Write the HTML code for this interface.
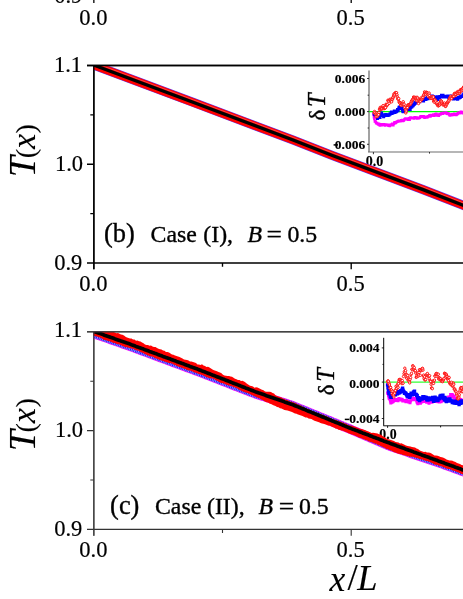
<!DOCTYPE html>
<html><head><meta charset="utf-8"><title>T(x)</title>
<style>
html,body{margin:0;padding:0;background:#fff;}
body{width:463px;height:599px;overflow:hidden;position:relative;}
svg{position:absolute;left:0;top:0;display:block;will-change:transform;}
text{font-family:"Liberation Serif",serif;fill:#000;stroke:#000;stroke-width:0.35px;}
.b{stroke-width:0.15px;}
.t{font-size:22.5px;stroke-width:0.2px;}
.big text{stroke-width:0.1px;}
.big{stroke-width:0.1px;}
.i{font-style:italic;}
.b{font-weight:bold;font-size:13.5px;}
</style></head><body>
<svg width="463" height="599" viewBox="0 0 463 599">
<rect width="463" height="599" fill="#fff"/>
<defs>
<clipPath id="cb"><rect x="93.5" y="65.5" width="380" height="197.5"/></clipPath>
<clipPath id="cc"><rect x="93.5" y="331.8" width="380" height="197.6"/></clipPath>
<clipPath id="ib"><rect x="369" y="66" width="100" height="86"/></clipPath>
<clipPath id="ic"><rect x="384" y="333" width="100" height="92.5"/></clipPath>
</defs>

<g stroke="#000" stroke-width="1.3" fill="none"><path d="M93.85 -4V2.9M351.2 -4V2.9"/></g>
<text class="t" x="82.3" y="3.4" text-anchor="end">0.9</text>
<text class="t" x="93.4" y="24.7" text-anchor="middle">0.0</text>
<text class="t" x="350.6" y="24.7" text-anchor="middle">0.5</text>
<g>
<path d="M369 70.4V152" stroke="#a2a2a2" stroke-width="2" fill="none"/>
<path d="M368 152H470" stroke="#6e6e6e" stroke-width="1.1" fill="none"/><path d="M373.4 152V154.2M429.5 152V153.6" stroke="#333" stroke-width="1" fill="none"/>
<path d="M367 78.5H369M367 111.6H369M367 144.3H369M367.6 95.2H369M367.6 128H369" stroke="#222" stroke-width="0.9" fill="none"/>
<text class="b" x="365.2" y="83" text-anchor="end">0.006</text>
<text class="b" x="365.2" y="116" text-anchor="end">0.000</text>
<text class="b" x="365.2" y="148.6" text-anchor="end">0.006</text><path d="M333.6 144.9H338" stroke="#000" stroke-width="1.5"/>
<text class="b" x="365.8" y="165.8" style="font-size:14px">0.0</text>
<g clip-path="url(#ib)">
<path d="M367.5 111.6H470" stroke="#00ff00" stroke-width="1.1" fill="none"/>
<path d="M373.6 114.6h0.01M374.0 117.2h0.01M374.4 119.0h0.01M374.9 121.5h0.01M375.3 121.4h0.01M375.8 122.0h0.01M376.2 123.2h0.01M376.6 123.2h0.01M377.1 123.0h0.01M377.6 123.7h0.01M378.0 124.3h0.01M378.5 124.5h0.01M379.0 123.9h0.01M379.5 125.0h0.01M380.0 125.4h0.01M380.6 124.8h0.01M381.1 124.7h0.01M381.6 124.4h0.01M382.1 125.2h0.01M382.6 124.5h0.01M383.1 125.0h0.01M383.6 124.6h0.01M384.1 124.3h0.01M384.7 124.9h0.01M385.2 125.4h0.01M385.7 125.0h0.01M386.2 124.5h0.01M386.7 125.0h0.01M387.3 124.8h0.01M387.8 124.9h0.01M388.3 125.5h0.01M388.8 125.6h0.01M389.3 124.8h0.01M389.8 125.9h0.01M390.3 125.2h0.01M390.8 125.3h0.01M391.3 124.6h0.01M391.8 124.6h0.01M392.3 123.8h0.01M392.8 125.2h0.01M393.3 125.3h0.01M393.8 123.8h0.01M394.3 122.9h0.01M394.8 122.2h0.01M395.2 123.2h0.01M395.7 122.6h0.01M396.2 122.3h0.01M396.7 121.9h0.01M397.2 121.8h0.01M397.7 121.2h0.01M398.2 121.4h0.01M398.7 120.7h0.01M399.3 121.0h0.01M399.8 121.2h0.01M400.3 121.3h0.01M400.8 120.9h0.01M401.3 120.3h0.01M401.8 120.5h0.01M402.3 120.1h0.01M402.9 120.9h0.01M403.4 120.7h0.01M403.9 120.1h0.01M404.4 119.5h0.01M404.9 119.1h0.01M405.5 118.6h0.01M406.0 118.7h0.01M406.5 118.9h0.01M407.0 119.0h0.01M407.5 119.1h0.01M408.0 119.8h0.01M408.5 118.6h0.01M409.1 118.4h0.01M409.6 119.7h0.01M410.1 117.8h0.01M410.6 117.6h0.01M411.1 117.8h0.01M411.6 117.8h0.01M412.1 118.1h0.01M412.6 117.9h0.01M413.2 118.1h0.01M413.7 118.1h0.01M414.2 118.5h0.01M414.7 117.4h0.01M415.2 117.4h0.01M415.7 117.9h0.01M416.3 117.7h0.01M416.8 117.6h0.01M417.3 118.4h0.01M417.8 117.9h0.01M418.3 118.2h0.01M418.7 118.2h0.01M419.2 117.9h0.01M419.7 117.7h0.01M420.2 117.2h0.01M420.6 116.3h0.01M421.1 116.4h0.01M421.6 116.6h0.01M422.1 116.3h0.01M422.6 116.4h0.01M423.1 116.9h0.01M423.6 116.3h0.01M424.1 116.8h0.01M424.5 117.7h0.01M425.0 116.8h0.01M425.5 116.8h0.01M426.0 116.7h0.01M426.5 117.5h0.01M427.0 117.3h0.01M427.5 117.3h0.01M428.0 116.4h0.01M428.5 116.3h0.01M429.0 116.2h0.01M429.5 115.2h0.01M429.9 116.3h0.01M430.4 116.4h0.01M430.9 115.0h0.01M431.4 115.6h0.01M431.9 115.3h0.01M432.4 115.4h0.01M432.9 115.4h0.01M433.4 114.5h0.01M433.9 114.7h0.01M434.4 115.6h0.01M434.9 114.9h0.01M435.3 114.4h0.01M435.8 114.0h0.01M436.3 113.9h0.01M436.8 114.6h0.01M437.3 115.5h0.01M437.8 115.2h0.01M438.3 114.9h0.01M438.8 115.7h0.01M439.3 114.6h0.01M439.8 114.0h0.01M440.2 114.3h0.01M440.7 114.3h0.01M441.2 113.5h0.01M441.7 113.0h0.01M442.2 113.5h0.01M442.7 113.6h0.01M443.2 112.8h0.01M443.6 112.9h0.01M444.1 112.7h0.01M444.6 113.1h0.01M445.1 112.9h0.01M445.5 112.8h0.01M446.0 112.5h0.01M446.5 113.0h0.01M447.0 113.8h0.01M447.5 113.3h0.01M447.9 114.0h0.01M448.4 113.6h0.01M448.9 114.0h0.01M449.4 114.7h0.01M449.8 115.5h0.01M450.3 115.1h0.01M450.8 115.2h0.01M451.3 115.3h0.01M451.8 114.4h0.01M452.3 114.8h0.01M452.8 114.6h0.01M453.3 115.0h0.01M453.7 114.4h0.01M454.2 113.7h0.01M454.7 114.4h0.01M455.2 114.7h0.01M455.7 114.4h0.01M456.2 115.0h0.01M456.7 114.4h0.01M457.2 113.8h0.01M457.6 114.0h0.01M458.1 112.9h0.01M458.6 112.7h0.01M459.1 112.8h0.01M459.5 113.1h0.01M460.0 112.5h0.01M460.5 112.4h0.01M461.0 111.9h0.01M461.5 112.2h0.01M462.0 113.0h0.01M462.5 112.1h0.01M463.0 113.2h0.01M463.5 112.2h0.01M464.0 112.1h0.01" stroke="#ff00ff" stroke-width="2.6" fill="none" stroke-linecap="square"/>
<path d="M374.1 113.8h0.01M374.6 114.8h0.01M375.1 113.9h0.01M375.6 113.1h0.01M376.1 114.9h0.01M376.5 116.0h0.01M377.0 116.6h0.01M377.5 118.4h0.01M378.0 117.7h0.01M378.5 117.1h0.01M379.0 117.2h0.01M379.5 116.8h0.01M380.0 117.4h0.01M380.6 115.5h0.01M381.1 115.3h0.01M381.6 112.9h0.01M382.1 114.9h0.01M382.6 114.7h0.01M383.1 115.5h0.01M383.6 116.7h0.01M384.1 115.8h0.01M384.6 115.2h0.01M385.1 114.9h0.01M385.7 114.5h0.01M386.2 114.5h0.01M386.7 115.5h0.01M387.2 115.4h0.01M387.7 115.5h0.01M388.2 114.9h0.01M388.8 115.2h0.01M389.3 114.8h0.01M389.8 113.9h0.01M390.4 113.9h0.01M390.9 113.1h0.01M391.4 112.1h0.01M391.9 113.4h0.01M392.4 113.1h0.01M392.9 111.9h0.01M393.3 112.8h0.01M393.8 112.5h0.01M394.3 111.0h0.01M394.8 112.5h0.01M395.3 112.0h0.01M395.9 112.1h0.01M396.4 111.5h0.01M396.9 110.9h0.01M397.5 109.6h0.01M398.0 110.7h0.01M398.4 109.3h0.01M398.9 107.8h0.01M399.3 107.0h0.01M399.7 107.3h0.01M400.2 108.0h0.01M400.6 107.8h0.01M401.1 108.5h0.01M401.6 107.8h0.01M402.1 109.2h0.01M402.6 111.0h0.01M403.1 111.8h0.01M403.6 110.8h0.01M404.2 110.6h0.01M404.7 111.6h0.01M405.2 110.6h0.01M405.7 110.5h0.01M406.2 110.8h0.01M406.7 109.4h0.01M407.2 109.4h0.01M407.7 107.7h0.01M408.2 107.9h0.01M408.7 107.8h0.01M409.2 107.9h0.01M409.7 108.6h0.01M410.2 109.5h0.01M410.7 107.6h0.01M411.3 106.7h0.01M411.8 106.9h0.01M412.3 105.8h0.01M412.8 105.9h0.01M413.2 105.6h0.01M413.7 104.6h0.01M414.2 104.4h0.01M414.7 102.8h0.01M415.2 103.6h0.01M415.8 102.1h0.01M416.3 101.9h0.01M416.8 101.8h0.01M417.3 101.6h0.01M417.8 102.3h0.01M418.4 101.8h0.01M418.9 101.1h0.01M419.4 101.3h0.01M419.9 101.8h0.01M420.5 100.6h0.01M421.1 100.2h0.01M421.6 100.3h0.01M422.1 99.8h0.01M422.6 98.5h0.01M423.1 100.5h0.01M423.6 101.1h0.01M424.0 98.4h0.01M424.5 98.6h0.01M425.0 99.0h0.01M425.5 99.4h0.01M426.0 99.4h0.01M426.5 98.6h0.01M427.0 97.6h0.01M427.5 98.0h0.01M428.0 98.7h0.01M428.5 97.4h0.01M429.0 96.8h0.01M429.4 97.2h0.01M429.9 96.0h0.01M430.4 96.6h0.01M430.9 96.6h0.01M431.4 97.1h0.01M431.9 96.5h0.01M432.4 96.0h0.01M432.9 96.4h0.01M433.4 96.9h0.01M433.9 96.8h0.01M434.4 97.3h0.01M434.9 98.1h0.01M435.3 98.9h0.01M435.8 99.7h0.01M436.3 98.3h0.01M436.8 98.2h0.01M437.3 96.8h0.01M437.8 99.4h0.01M438.3 98.1h0.01M438.9 97.9h0.01M439.4 98.0h0.01M439.9 96.4h0.01M440.5 96.9h0.01M441.0 96.5h0.01M441.5 95.2h0.01M442.0 96.1h0.01M442.5 97.0h0.01M443.0 95.3h0.01M443.4 96.4h0.01M443.9 96.4h0.01M444.4 96.5h0.01M444.9 96.5h0.01M445.4 97.1h0.01M445.9 96.3h0.01M446.4 96.8h0.01M446.8 96.2h0.01M447.3 96.7h0.01M447.8 95.9h0.01M448.3 96.1h0.01M448.7 97.5h0.01M449.2 97.2h0.01M449.7 96.7h0.01M450.2 95.9h0.01M450.7 96.0h0.01M451.1 96.8h0.01M451.6 97.7h0.01M452.1 97.9h0.01M452.6 98.1h0.01M453.0 97.9h0.01M453.5 98.9h0.01M454.0 98.1h0.01M454.5 97.8h0.01M454.9 98.8h0.01M455.4 98.7h0.01M455.9 98.5h0.01M456.4 98.3h0.01M456.8 98.5h0.01M457.3 99.3h0.01M457.8 99.0h0.01M458.4 97.6h0.01M458.9 98.0h0.01M459.4 97.8h0.01M460.0 96.7h0.01M460.5 97.3h0.01M461.0 96.5h0.01M461.5 95.9h0.01M462.0 96.2h0.01M462.5 96.4h0.01M463.0 94.8h0.01M463.5 94.7h0.01M464.0 93.5h0.01" stroke="#0000ff" stroke-width="3.0" fill="none" stroke-linecap="square"/>
<g fill="#fff" stroke="#ff0000" stroke-width="0.9"><circle cx="374.1" cy="112.7" r="1.25"/><circle cx="374.5" cy="111.5" r="1.25"/><circle cx="374.9" cy="113.3" r="1.25"/><circle cx="375.2" cy="112.6" r="1.25"/><circle cx="375.6" cy="114.3" r="1.25"/><circle cx="376.0" cy="116.8" r="1.25"/><circle cx="376.5" cy="113.3" r="1.25"/><circle cx="376.9" cy="114.6" r="1.25"/><circle cx="377.3" cy="116.4" r="1.25"/><circle cx="377.7" cy="115.1" r="1.25"/><circle cx="378.2" cy="113.3" r="1.25"/><circle cx="378.6" cy="114.7" r="1.25"/><circle cx="379.0" cy="112.4" r="1.25"/><circle cx="379.5" cy="109.1" r="1.25"/><circle cx="379.9" cy="109.7" r="1.25"/><circle cx="380.3" cy="107.4" r="1.25"/><circle cx="380.7" cy="109.3" r="1.25"/><circle cx="381.0" cy="108.0" r="1.25"/><circle cx="381.4" cy="108.1" r="1.25"/><circle cx="381.8" cy="109.1" r="1.25"/><circle cx="382.2" cy="108.4" r="1.25"/><circle cx="382.7" cy="106.6" r="1.25"/><circle cx="383.1" cy="105.7" r="1.25"/><circle cx="383.5" cy="108.2" r="1.25"/><circle cx="384.0" cy="108.7" r="1.25"/><circle cx="384.4" cy="107.3" r="1.25"/><circle cx="384.8" cy="108.1" r="1.25"/><circle cx="385.2" cy="107.8" r="1.25"/><circle cx="385.6" cy="107.6" r="1.25"/><circle cx="386.0" cy="104.3" r="1.25"/><circle cx="386.4" cy="104.9" r="1.25"/><circle cx="386.8" cy="105.6" r="1.25"/><circle cx="387.2" cy="105.0" r="1.25"/><circle cx="387.5" cy="104.4" r="1.25"/><circle cx="387.9" cy="100.3" r="1.25"/><circle cx="388.3" cy="100.9" r="1.25"/><circle cx="388.7" cy="101.3" r="1.25"/><circle cx="389.1" cy="103.3" r="1.25"/><circle cx="389.5" cy="100.2" r="1.25"/><circle cx="389.9" cy="99.5" r="1.25"/><circle cx="390.3" cy="99.3" r="1.25"/><circle cx="390.7" cy="100.7" r="1.25"/><circle cx="391.2" cy="100.1" r="1.25"/><circle cx="391.6" cy="101.8" r="1.25"/><circle cx="392.0" cy="99.5" r="1.25"/><circle cx="392.4" cy="99.3" r="1.25"/><circle cx="392.7" cy="97.9" r="1.25"/><circle cx="393.1" cy="97.6" r="1.25"/><circle cx="393.5" cy="96.1" r="1.25"/><circle cx="393.9" cy="94.1" r="1.25"/><circle cx="394.4" cy="95.5" r="1.25"/><circle cx="394.8" cy="94.7" r="1.25"/><circle cx="395.2" cy="93.0" r="1.25"/><circle cx="395.7" cy="92.6" r="1.25"/><circle cx="396.1" cy="92.7" r="1.25"/><circle cx="396.5" cy="92.8" r="1.25"/><circle cx="397.0" cy="94.8" r="1.25"/><circle cx="397.4" cy="97.2" r="1.25"/><circle cx="397.8" cy="98.8" r="1.25"/><circle cx="398.3" cy="99.3" r="1.25"/><circle cx="398.7" cy="98.6" r="1.25"/><circle cx="399.1" cy="101.9" r="1.25"/><circle cx="399.6" cy="102.5" r="1.25"/><circle cx="400.0" cy="102.9" r="1.25"/><circle cx="400.4" cy="103.6" r="1.25"/><circle cx="400.9" cy="105.0" r="1.25"/><circle cx="401.3" cy="105.5" r="1.25"/><circle cx="401.7" cy="104.2" r="1.25"/><circle cx="402.1" cy="103.7" r="1.25"/><circle cx="402.4" cy="103.3" r="1.25"/><circle cx="402.8" cy="102.9" r="1.25"/><circle cx="403.2" cy="101.8" r="1.25"/><circle cx="403.6" cy="104.5" r="1.25"/><circle cx="404.1" cy="104.2" r="1.25"/><circle cx="404.5" cy="106.8" r="1.25"/><circle cx="404.9" cy="107.3" r="1.25"/><circle cx="405.4" cy="109.9" r="1.25"/><circle cx="405.8" cy="112.9" r="1.25"/><circle cx="406.2" cy="111.0" r="1.25"/><circle cx="406.7" cy="108.5" r="1.25"/><circle cx="407.1" cy="107.7" r="1.25"/><circle cx="407.5" cy="107.4" r="1.25"/><circle cx="407.9" cy="105.1" r="1.25"/><circle cx="408.2" cy="105.1" r="1.25"/><circle cx="408.6" cy="105.5" r="1.25"/><circle cx="409.0" cy="104.7" r="1.25"/><circle cx="409.4" cy="104.5" r="1.25"/><circle cx="409.8" cy="104.7" r="1.25"/><circle cx="410.2" cy="104.3" r="1.25"/><circle cx="410.6" cy="103.9" r="1.25"/><circle cx="411.0" cy="103.0" r="1.25"/><circle cx="411.4" cy="101.5" r="1.25"/><circle cx="411.9" cy="100.9" r="1.25"/><circle cx="412.3" cy="100.1" r="1.25"/><circle cx="412.7" cy="99.5" r="1.25"/><circle cx="413.2" cy="99.0" r="1.25"/><circle cx="413.6" cy="97.0" r="1.25"/><circle cx="414.0" cy="97.7" r="1.25"/><circle cx="414.5" cy="98.2" r="1.25"/><circle cx="414.9" cy="97.3" r="1.25"/><circle cx="415.3" cy="97.9" r="1.25"/><circle cx="415.8" cy="98.6" r="1.25"/><circle cx="416.2" cy="98.1" r="1.25"/><circle cx="416.6" cy="100.7" r="1.25"/><circle cx="417.0" cy="97.3" r="1.25"/><circle cx="417.3" cy="98.8" r="1.25"/><circle cx="417.7" cy="98.1" r="1.25"/><circle cx="418.1" cy="100.9" r="1.25"/><circle cx="418.5" cy="103.5" r="1.25"/><circle cx="418.9" cy="99.4" r="1.25"/><circle cx="419.2" cy="100.6" r="1.25"/><circle cx="419.6" cy="101.5" r="1.25"/><circle cx="420.0" cy="101.0" r="1.25"/><circle cx="420.4" cy="101.2" r="1.25"/><circle cx="420.9" cy="98.1" r="1.25"/><circle cx="421.3" cy="99.7" r="1.25"/><circle cx="421.7" cy="99.5" r="1.25"/><circle cx="422.2" cy="98.7" r="1.25"/><circle cx="422.6" cy="97.5" r="1.25"/><circle cx="423.0" cy="97.5" r="1.25"/><circle cx="423.4" cy="95.7" r="1.25"/><circle cx="423.8" cy="95.1" r="1.25"/><circle cx="424.2" cy="94.2" r="1.25"/><circle cx="424.6" cy="91.9" r="1.25"/><circle cx="425.0" cy="93.1" r="1.25"/><circle cx="425.4" cy="93.5" r="1.25"/><circle cx="425.8" cy="94.0" r="1.25"/><circle cx="426.2" cy="92.4" r="1.25"/><circle cx="426.6" cy="92.4" r="1.25"/><circle cx="427.0" cy="92.8" r="1.25"/><circle cx="427.4" cy="93.2" r="1.25"/><circle cx="427.8" cy="94.7" r="1.25"/><circle cx="428.2" cy="96.4" r="1.25"/><circle cx="428.6" cy="94.4" r="1.25"/><circle cx="429.1" cy="93.1" r="1.25"/><circle cx="429.5" cy="95.7" r="1.25"/><circle cx="429.9" cy="97.7" r="1.25"/><circle cx="430.3" cy="98.1" r="1.25"/><circle cx="430.7" cy="98.3" r="1.25"/><circle cx="431.2" cy="97.1" r="1.25"/><circle cx="431.6" cy="96.8" r="1.25"/><circle cx="432.0" cy="98.5" r="1.25"/><circle cx="432.5" cy="97.5" r="1.25"/><circle cx="432.9" cy="96.5" r="1.25"/><circle cx="433.3" cy="97.1" r="1.25"/><circle cx="433.7" cy="101.1" r="1.25"/><circle cx="434.2" cy="102.1" r="1.25"/><circle cx="434.6" cy="100.0" r="1.25"/><circle cx="435.0" cy="99.8" r="1.25"/><circle cx="435.4" cy="101.1" r="1.25"/><circle cx="435.9" cy="101.1" r="1.25"/><circle cx="436.3" cy="103.5" r="1.25"/><circle cx="436.7" cy="103.4" r="1.25"/><circle cx="437.1" cy="102.8" r="1.25"/><circle cx="437.6" cy="105.4" r="1.25"/><circle cx="438.0" cy="104.9" r="1.25"/><circle cx="438.4" cy="105.9" r="1.25"/><circle cx="438.8" cy="105.5" r="1.25"/><circle cx="439.2" cy="104.8" r="1.25"/><circle cx="439.6" cy="105.0" r="1.25"/><circle cx="440.0" cy="103.8" r="1.25"/><circle cx="440.4" cy="102.1" r="1.25"/><circle cx="440.8" cy="100.8" r="1.25"/><circle cx="441.2" cy="101.1" r="1.25"/><circle cx="441.6" cy="101.5" r="1.25"/><circle cx="442.0" cy="102.9" r="1.25"/><circle cx="442.4" cy="103.7" r="1.25"/><circle cx="442.9" cy="104.7" r="1.25"/><circle cx="443.3" cy="104.8" r="1.25"/><circle cx="443.7" cy="104.2" r="1.25"/><circle cx="444.1" cy="104.3" r="1.25"/><circle cx="444.6" cy="103.1" r="1.25"/><circle cx="445.0" cy="104.9" r="1.25"/><circle cx="445.4" cy="106.4" r="1.25"/><circle cx="445.8" cy="106.1" r="1.25"/><circle cx="446.2" cy="104.8" r="1.25"/><circle cx="446.6" cy="103.7" r="1.25"/><circle cx="447.0" cy="103.9" r="1.25"/><circle cx="447.4" cy="102.6" r="1.25"/><circle cx="447.8" cy="102.3" r="1.25"/><circle cx="448.2" cy="101.5" r="1.25"/><circle cx="448.6" cy="100.3" r="1.25"/><circle cx="449.0" cy="100.8" r="1.25"/><circle cx="449.5" cy="98.8" r="1.25"/><circle cx="449.9" cy="98.0" r="1.25"/><circle cx="450.4" cy="96.9" r="1.25"/><circle cx="450.8" cy="96.3" r="1.25"/><circle cx="451.2" cy="98.1" r="1.25"/><circle cx="451.7" cy="98.6" r="1.25"/><circle cx="452.1" cy="96.7" r="1.25"/><circle cx="452.6" cy="96.3" r="1.25"/><circle cx="453.0" cy="96.5" r="1.25"/><circle cx="453.4" cy="96.1" r="1.25"/><circle cx="453.9" cy="96.3" r="1.25"/><circle cx="454.3" cy="93.8" r="1.25"/><circle cx="454.7" cy="93.4" r="1.25"/><circle cx="455.1" cy="94.2" r="1.25"/><circle cx="455.6" cy="95.4" r="1.25"/><circle cx="456.0" cy="94.4" r="1.25"/><circle cx="456.4" cy="92.9" r="1.25"/><circle cx="456.9" cy="92.8" r="1.25"/><circle cx="457.3" cy="92.3" r="1.25"/><circle cx="457.7" cy="91.6" r="1.25"/><circle cx="458.1" cy="93.5" r="1.25"/><circle cx="458.5" cy="91.8" r="1.25"/><circle cx="458.9" cy="91.5" r="1.25"/><circle cx="459.3" cy="93.3" r="1.25"/><circle cx="459.7" cy="92.7" r="1.25"/><circle cx="460.1" cy="91.4" r="1.25"/><circle cx="460.5" cy="89.7" r="1.25"/><circle cx="460.9" cy="89.9" r="1.25"/><circle cx="461.4" cy="90.9" r="1.25"/><circle cx="461.8" cy="89.9" r="1.25"/><circle cx="462.2" cy="89.9" r="1.25"/><circle cx="462.7" cy="88.5" r="1.25"/><circle cx="463.1" cy="88.1" r="1.25"/><circle cx="463.6" cy="87.0" r="1.25"/><circle cx="464.0" cy="86.9" r="1.25"/></g>
</g></g>
<g>
<path d="M383.7 337.8V425.8" stroke="#000" stroke-width="1.0" fill="none"/>
<path d="M383.4 425.8H470M387.6 425.8V427.8M440.6 425.8V427.4" stroke="#111" stroke-width="1" fill="none"/>
<path d="M381.8 347.9H384M381.8 382.1H384M381.8 418.5H384M382.5 364.4H384M382.5 399.5H384" stroke="#111" stroke-width="0.9" fill="none"/>
<text class="b" x="379.6" y="352.4" text-anchor="end">0.004</text>
<text class="b" x="379.6" y="387.6" text-anchor="end">0.000</text>
<text class="b" x="379.6" y="423.2" text-anchor="end">0.004</text><path d="M344.8 419.4H349.3" stroke="#000" stroke-width="1.5"/>
<text class="b" x="379.3" y="439.4" style="font-size:13.8px">0.0</text>
<g clip-path="url(#ic)">
<path d="M383 382.1H470" stroke="#33ff33" stroke-width="1.3" fill="none"/>
<path d="M387.6 392.9h0.01M388.1 393.4h0.01M388.5 395.7h0.01M389.0 398.0h0.01M389.4 398.5h0.01M389.9 399.3h0.01M390.4 401.0h0.01M390.8 403.0h0.01M391.3 402.4h0.01M391.8 401.8h0.01M392.2 400.2h0.01M392.7 402.0h0.01M393.2 401.3h0.01M393.7 400.9h0.01M394.1 399.9h0.01M394.6 400.2h0.01M395.1 399.5h0.01M395.6 400.0h0.01M396.1 400.5h0.01M396.5 400.3h0.01M397.0 400.4h0.01M397.5 399.6h0.01M398.0 400.8h0.01M398.4 399.8h0.01M398.9 398.5h0.01M399.4 399.1h0.01M399.9 399.1h0.01M400.4 398.9h0.01M400.9 399.3h0.01M401.4 400.0h0.01M401.8 399.3h0.01M402.3 399.8h0.01M402.8 401.1h0.01M403.3 401.1h0.01M403.8 400.6h0.01M404.3 400.8h0.01M404.9 400.8h0.01M405.4 401.0h0.01M405.9 401.7h0.01M406.4 401.5h0.01M406.9 400.0h0.01M407.5 401.1h0.01M408.0 401.1h0.01M408.5 401.9h0.01M409.0 401.3h0.01M409.5 401.4h0.01M410.0 402.8h0.01M410.4 401.0h0.01M410.9 400.1h0.01M411.4 399.4h0.01M411.9 398.4h0.01M412.4 398.2h0.01M412.9 399.7h0.01M413.5 399.5h0.01M414.0 398.5h0.01M414.5 398.3h0.01M415.1 399.7h0.01M415.6 399.2h0.01M416.2 399.8h0.01M416.7 400.9h0.01M417.2 402.4h0.01M417.8 403.7h0.01M418.3 403.3h0.01M418.8 402.5h0.01M419.4 402.1h0.01M419.9 403.1h0.01M420.4 403.2h0.01M420.9 401.9h0.01M421.4 401.9h0.01M421.9 401.7h0.01M422.4 401.4h0.01M423.0 400.9h0.01M423.5 400.0h0.01M424.0 400.2h0.01M424.5 399.6h0.01M425.0 401.4h0.01M425.5 401.6h0.01M426.0 400.5h0.01M426.5 401.9h0.01M427.0 402.2h0.01M427.5 400.3h0.01M428.0 402.2h0.01M428.5 402.3h0.01M429.0 403.2h0.01M429.5 401.3h0.01M430.0 401.8h0.01M430.5 401.9h0.01M431.0 401.8h0.01M431.5 401.7h0.01M432.0 402.2h0.01M432.5 400.7h0.01M433.0 400.2h0.01M433.5 399.9h0.01M434.0 400.3h0.01M434.5 400.5h0.01M435.0 401.2h0.01M435.5 401.4h0.01M436.0 401.3h0.01M436.5 400.7h0.01M437.0 400.7h0.01M437.5 401.6h0.01M438.0 401.8h0.01M438.5 401.4h0.01M439.0 401.0h0.01M439.5 402.1h0.01M440.0 401.0h0.01M440.5 401.3h0.01M441.0 401.7h0.01M441.5 400.7h0.01M442.0 401.0h0.01M442.5 399.7h0.01M443.0 400.5h0.01M443.5 400.2h0.01M444.0 398.7h0.01M444.5 399.6h0.01M445.0 398.7h0.01M445.5 399.8h0.01M446.0 398.8h0.01M446.5 398.5h0.01M447.1 398.5h0.01M447.6 397.9h0.01M448.1 397.9h0.01M448.6 397.1h0.01M449.2 397.4h0.01M449.7 396.9h0.01M450.2 396.8h0.01M450.6 394.6h0.01M451.1 396.3h0.01M451.6 396.1h0.01M452.1 394.6h0.01M452.5 395.3h0.01M453.0 395.7h0.01M453.5 396.9h0.01M454.0 396.2h0.01M454.5 398.2h0.01M455.0 398.1h0.01M455.5 400.2h0.01M456.0 399.6h0.01M456.5 399.9h0.01M457.0 399.4h0.01M457.5 398.8h0.01M458.0 400.2h0.01M458.5 400.8h0.01M459.0 401.5h0.01M459.5 401.5h0.01M460.0 400.6h0.01M460.5 399.5h0.01M461.0 400.0h0.01M461.5 400.2h0.01M462.0 400.3h0.01M462.5 401.5h0.01M463.0 401.9h0.01M463.5 401.7h0.01M464.0 402.1h0.01" stroke="#ff00ff" stroke-width="3.0" fill="none" stroke-linecap="square"/>
<path d="M387.6 384.9h0.01M388.0 387.7h0.01M388.4 390.8h0.01M388.8 393.2h0.01M389.2 393.7h0.01M389.7 393.3h0.01M390.3 396.6h0.01M390.8 397.1h0.01M391.3 397.3h0.01M391.9 394.3h0.01M392.4 394.0h0.01M392.9 393.8h0.01M393.5 391.9h0.01M394.0 391.7h0.01M394.5 393.1h0.01M395.0 394.0h0.01M395.5 394.9h0.01M396.0 392.8h0.01M396.4 391.4h0.01M396.9 392.8h0.01M397.4 393.7h0.01M397.9 393.4h0.01M398.4 391.7h0.01M398.9 392.7h0.01M399.5 392.8h0.01M400.0 392.4h0.01M400.5 390.9h0.01M401.0 390.8h0.01M401.6 391.0h0.01M402.1 389.4h0.01M402.6 388.2h0.01M403.1 390.2h0.01M403.5 391.5h0.01M404.0 391.9h0.01M404.5 393.2h0.01M404.9 392.6h0.01M405.4 393.2h0.01M405.9 393.5h0.01M406.4 394.4h0.01M406.9 395.9h0.01M407.3 394.7h0.01M407.8 396.6h0.01M408.3 396.9h0.01M408.8 396.4h0.01M409.2 396.0h0.01M409.7 397.2h0.01M410.2 395.7h0.01M410.7 394.8h0.01M411.1 393.2h0.01M411.6 393.8h0.01M412.1 394.7h0.01M412.6 394.0h0.01M413.1 393.4h0.01M413.5 392.3h0.01M414.0 391.9h0.01M414.5 391.3h0.01M415.1 394.1h0.01M415.6 394.4h0.01M416.2 394.4h0.01M416.7 395.3h0.01M417.2 395.7h0.01M417.6 397.8h0.01M418.1 399.2h0.01M418.6 397.6h0.01M419.1 399.6h0.01M419.5 400.6h0.01M420.0 399.9h0.01M420.5 398.3h0.01M421.0 398.2h0.01M421.4 398.2h0.01M421.9 399.1h0.01M422.4 398.6h0.01M422.9 396.6h0.01M423.3 398.0h0.01M423.8 396.6h0.01M424.3 398.4h0.01M424.8 397.2h0.01M425.3 397.3h0.01M425.8 397.2h0.01M426.3 397.6h0.01M426.8 399.6h0.01M427.2 400.1h0.01M427.7 400.1h0.01M428.2 399.8h0.01M428.7 397.9h0.01M429.2 398.3h0.01M429.7 398.4h0.01M430.2 398.1h0.01M430.7 399.6h0.01M431.2 398.9h0.01M431.7 398.8h0.01M432.1 398.5h0.01M432.6 397.4h0.01M433.1 399.6h0.01M433.6 401.3h0.01M434.1 400.9h0.01M434.6 399.7h0.01M435.1 397.1h0.01M435.6 398.8h0.01M436.1 400.3h0.01M436.6 399.8h0.01M437.1 400.1h0.01M437.5 400.5h0.01M438.0 400.2h0.01M438.5 398.3h0.01M439.0 398.9h0.01M439.5 398.6h0.01M440.0 396.1h0.01M440.5 396.4h0.01M441.0 395.5h0.01M441.5 396.6h0.01M442.0 397.8h0.01M442.5 396.6h0.01M442.9 395.3h0.01M443.4 398.1h0.01M443.9 398.4h0.01M444.4 399.7h0.01M444.9 397.4h0.01M445.4 399.0h0.01M445.9 400.8h0.01M446.4 401.6h0.01M446.9 399.8h0.01M447.4 399.7h0.01M447.9 399.3h0.01M448.3 400.4h0.01M448.8 401.1h0.01M449.3 400.5h0.01M449.8 398.9h0.01M450.3 400.5h0.01M450.8 400.1h0.01M451.3 401.0h0.01M451.8 401.0h0.01M452.3 402.5h0.01M452.8 402.6h0.01M453.3 401.1h0.01M453.7 401.4h0.01M454.2 403.0h0.01M454.7 401.4h0.01M455.2 401.7h0.01M455.7 402.7h0.01M456.2 403.2h0.01M456.7 402.7h0.01M457.2 400.7h0.01M457.7 400.0h0.01M458.1 401.3h0.01M458.6 402.0h0.01M459.1 404.5h0.01M459.6 402.1h0.01M460.1 403.2h0.01M460.6 403.3h0.01M461.1 400.9h0.01M461.6 400.9h0.01M462.1 401.9h0.01M462.5 401.7h0.01M463.0 402.0h0.01M463.5 402.7h0.01M464.0 401.8h0.01" stroke="#0000ff" stroke-width="3.4" fill="none" stroke-linecap="square"/>
<g fill="#fff" stroke="#ff0000" stroke-width="0.9"><circle cx="387.6" cy="381.6" r="1.2"/><circle cx="388.0" cy="380.8" r="1.2"/><circle cx="388.4" cy="381.4" r="1.2"/><circle cx="388.8" cy="383.8" r="1.2"/><circle cx="389.1" cy="383.2" r="1.2"/><circle cx="389.5" cy="385.0" r="1.2"/><circle cx="389.9" cy="388.2" r="1.2"/><circle cx="390.3" cy="387.0" r="1.2"/><circle cx="390.7" cy="387.6" r="1.2"/><circle cx="391.1" cy="390.2" r="1.2"/><circle cx="391.5" cy="390.1" r="1.2"/><circle cx="391.9" cy="393.4" r="1.2"/><circle cx="392.3" cy="391.3" r="1.2"/><circle cx="392.7" cy="394.7" r="1.2"/><circle cx="393.1" cy="394.7" r="1.2"/><circle cx="393.5" cy="395.2" r="1.2"/><circle cx="393.9" cy="397.0" r="1.2"/><circle cx="394.3" cy="391.8" r="1.2"/><circle cx="394.7" cy="393.2" r="1.2"/><circle cx="395.1" cy="390.2" r="1.2"/><circle cx="395.5" cy="390.6" r="1.2"/><circle cx="396.0" cy="386.3" r="1.2"/><circle cx="396.4" cy="388.2" r="1.2"/><circle cx="396.9" cy="388.6" r="1.2"/><circle cx="397.3" cy="385.7" r="1.2"/><circle cx="397.7" cy="384.2" r="1.2"/><circle cx="398.1" cy="387.3" r="1.2"/><circle cx="398.5" cy="383.7" r="1.2"/><circle cx="398.8" cy="381.2" r="1.2"/><circle cx="399.2" cy="379.5" r="1.2"/><circle cx="399.6" cy="380.2" r="1.2"/><circle cx="400.0" cy="379.4" r="1.2"/><circle cx="400.4" cy="379.7" r="1.2"/><circle cx="400.8" cy="382.6" r="1.2"/><circle cx="401.2" cy="380.4" r="1.2"/><circle cx="401.5" cy="381.4" r="1.2"/><circle cx="401.9" cy="383.6" r="1.2"/><circle cx="402.3" cy="380.6" r="1.2"/><circle cx="402.7" cy="383.4" r="1.2"/><circle cx="403.1" cy="383.2" r="1.2"/><circle cx="403.5" cy="376.5" r="1.2"/><circle cx="404.0" cy="373.7" r="1.2"/><circle cx="404.4" cy="371.6" r="1.2"/><circle cx="404.8" cy="368.2" r="1.2"/><circle cx="405.2" cy="372.6" r="1.2"/><circle cx="405.6" cy="370.7" r="1.2"/><circle cx="406.0" cy="374.8" r="1.2"/><circle cx="406.5" cy="378.1" r="1.2"/><circle cx="406.9" cy="374.8" r="1.2"/><circle cx="407.3" cy="376.8" r="1.2"/><circle cx="407.7" cy="375.5" r="1.2"/><circle cx="408.1" cy="380.2" r="1.2"/><circle cx="408.5" cy="379.3" r="1.2"/><circle cx="408.9" cy="380.2" r="1.2"/><circle cx="409.3" cy="381.4" r="1.2"/><circle cx="409.7" cy="382.9" r="1.2"/><circle cx="410.1" cy="379.5" r="1.2"/><circle cx="410.6" cy="377.6" r="1.2"/><circle cx="411.0" cy="374.6" r="1.2"/><circle cx="411.5" cy="373.3" r="1.2"/><circle cx="411.9" cy="369.3" r="1.2"/><circle cx="412.3" cy="369.7" r="1.2"/><circle cx="412.7" cy="365.7" r="1.2"/><circle cx="413.1" cy="366.2" r="1.2"/><circle cx="413.5" cy="369.3" r="1.2"/><circle cx="413.9" cy="368.8" r="1.2"/><circle cx="414.3" cy="367.6" r="1.2"/><circle cx="414.7" cy="370.8" r="1.2"/><circle cx="415.0" cy="370.7" r="1.2"/><circle cx="415.4" cy="370.7" r="1.2"/><circle cx="415.8" cy="373.2" r="1.2"/><circle cx="416.2" cy="377.3" r="1.2"/><circle cx="416.6" cy="377.0" r="1.2"/><circle cx="417.0" cy="375.8" r="1.2"/><circle cx="417.4" cy="373.9" r="1.2"/><circle cx="417.9" cy="372.9" r="1.2"/><circle cx="418.3" cy="376.2" r="1.2"/><circle cx="418.7" cy="375.0" r="1.2"/><circle cx="419.1" cy="372.5" r="1.2"/><circle cx="419.5" cy="369.7" r="1.2"/><circle cx="419.9" cy="369.7" r="1.2"/><circle cx="420.3" cy="375.3" r="1.2"/><circle cx="420.7" cy="370.5" r="1.2"/><circle cx="421.0" cy="370.5" r="1.2"/><circle cx="421.4" cy="370.5" r="1.2"/><circle cx="421.8" cy="369.4" r="1.2"/><circle cx="422.2" cy="368.5" r="1.2"/><circle cx="422.6" cy="368.4" r="1.2"/><circle cx="423.0" cy="370.1" r="1.2"/><circle cx="423.4" cy="376.2" r="1.2"/><circle cx="423.7" cy="375.1" r="1.2"/><circle cx="424.1" cy="378.7" r="1.2"/><circle cx="424.5" cy="376.8" r="1.2"/><circle cx="424.9" cy="379.9" r="1.2"/><circle cx="425.3" cy="379.6" r="1.2"/><circle cx="425.7" cy="379.6" r="1.2"/><circle cx="426.2" cy="375.0" r="1.2"/><circle cx="426.6" cy="375.5" r="1.2"/><circle cx="427.0" cy="374.2" r="1.2"/><circle cx="427.4" cy="373.5" r="1.2"/><circle cx="427.9" cy="376.1" r="1.2"/><circle cx="428.3" cy="375.3" r="1.2"/><circle cx="428.8" cy="376.1" r="1.2"/><circle cx="429.2" cy="378.4" r="1.2"/><circle cx="429.6" cy="375.7" r="1.2"/><circle cx="430.0" cy="380.3" r="1.2"/><circle cx="430.4" cy="381.0" r="1.2"/><circle cx="430.7" cy="381.5" r="1.2"/><circle cx="431.1" cy="384.3" r="1.2"/><circle cx="431.5" cy="388.0" r="1.2"/><circle cx="431.9" cy="388.1" r="1.2"/><circle cx="432.3" cy="388.7" r="1.2"/><circle cx="432.7" cy="383.6" r="1.2"/><circle cx="433.2" cy="380.8" r="1.2"/><circle cx="433.6" cy="383.4" r="1.2"/><circle cx="434.0" cy="380.9" r="1.2"/><circle cx="434.4" cy="380.1" r="1.2"/><circle cx="434.9" cy="375.9" r="1.2"/><circle cx="435.3" cy="376.4" r="1.2"/><circle cx="435.8" cy="374.5" r="1.2"/><circle cx="436.2" cy="373.5" r="1.2"/><circle cx="436.6" cy="373.6" r="1.2"/><circle cx="437.0" cy="376.2" r="1.2"/><circle cx="437.4" cy="374.6" r="1.2"/><circle cx="437.9" cy="374.4" r="1.2"/><circle cx="438.3" cy="374.2" r="1.2"/><circle cx="438.7" cy="379.1" r="1.2"/><circle cx="439.1" cy="378.0" r="1.2"/><circle cx="439.5" cy="377.9" r="1.2"/><circle cx="439.9" cy="378.3" r="1.2"/><circle cx="440.3" cy="379.5" r="1.2"/><circle cx="440.7" cy="378.9" r="1.2"/><circle cx="441.0" cy="380.6" r="1.2"/><circle cx="441.4" cy="380.9" r="1.2"/><circle cx="441.8" cy="381.4" r="1.2"/><circle cx="442.2" cy="381.3" r="1.2"/><circle cx="442.6" cy="381.6" r="1.2"/><circle cx="443.0" cy="380.1" r="1.2"/><circle cx="443.4" cy="379.8" r="1.2"/><circle cx="443.7" cy="379.1" r="1.2"/><circle cx="444.1" cy="378.3" r="1.2"/><circle cx="444.5" cy="373.2" r="1.2"/><circle cx="444.9" cy="373.8" r="1.2"/><circle cx="445.3" cy="374.1" r="1.2"/><circle cx="445.7" cy="376.9" r="1.2"/><circle cx="446.1" cy="374.1" r="1.2"/><circle cx="446.4" cy="375.0" r="1.2"/><circle cx="446.8" cy="376.2" r="1.2"/><circle cx="447.2" cy="376.6" r="1.2"/><circle cx="447.6" cy="379.1" r="1.2"/><circle cx="448.0" cy="378.1" r="1.2"/><circle cx="448.4" cy="380.7" r="1.2"/><circle cx="448.8" cy="378.0" r="1.2"/><circle cx="449.1" cy="377.4" r="1.2"/><circle cx="449.5" cy="382.7" r="1.2"/><circle cx="449.9" cy="383.3" r="1.2"/><circle cx="450.3" cy="384.1" r="1.2"/><circle cx="450.7" cy="383.9" r="1.2"/><circle cx="451.1" cy="384.6" r="1.2"/><circle cx="451.5" cy="382.3" r="1.2"/><circle cx="451.8" cy="385.4" r="1.2"/><circle cx="452.2" cy="384.0" r="1.2"/><circle cx="452.6" cy="386.3" r="1.2"/><circle cx="453.0" cy="385.7" r="1.2"/><circle cx="453.4" cy="383.1" r="1.2"/><circle cx="453.8" cy="384.2" r="1.2"/><circle cx="454.2" cy="389.1" r="1.2"/><circle cx="454.5" cy="389.0" r="1.2"/><circle cx="454.9" cy="389.2" r="1.2"/><circle cx="455.3" cy="391.0" r="1.2"/><circle cx="455.7" cy="391.1" r="1.2"/><circle cx="456.1" cy="391.8" r="1.2"/><circle cx="456.5" cy="393.8" r="1.2"/><circle cx="457.0" cy="395.1" r="1.2"/><circle cx="457.4" cy="398.5" r="1.2"/><circle cx="457.8" cy="397.8" r="1.2"/><circle cx="458.2" cy="399.1" r="1.2"/><circle cx="458.6" cy="398.3" r="1.2"/><circle cx="459.0" cy="397.1" r="1.2"/><circle cx="459.3" cy="394.8" r="1.2"/><circle cx="459.7" cy="391.8" r="1.2"/><circle cx="460.1" cy="390.2" r="1.2"/><circle cx="460.5" cy="388.4" r="1.2"/><circle cx="460.9" cy="387.5" r="1.2"/><circle cx="461.3" cy="388.6" r="1.2"/><circle cx="461.7" cy="388.1" r="1.2"/><circle cx="462.1" cy="391.8" r="1.2"/><circle cx="462.4" cy="391.1" r="1.2"/><circle cx="462.8" cy="389.5" r="1.2"/><circle cx="463.2" cy="387.0" r="1.2"/><circle cx="463.6" cy="389.5" r="1.2"/><circle cx="464.0" cy="389.7" r="1.2"/></g>
</g></g>
<g stroke="#000" stroke-width="1.35" fill="none">
<path d="M87 65.50H470M87 263.00H470M93.85 65.50V269.30M351.2 263.00V269.30"/>
<path d="M87 164.25H93.85M90.3 114.88H93.85M90.3 213.62H93.85M222.5 263.00V266.70"/>
</g>
<g clip-path="url(#cb)" fill="none" stroke-linejoin="round">
<path d="M80 59.9L93.5 65L193 102.3L293 140L333 155.7L423 189.6L463 205.3L480 212" stroke="#5a3cff" stroke-width="9.2"/>
<path d="M80 59.9L93.5 65L193 102.3L293 140L333 155.7L423 189.6L463 205.3L480 212" stroke="#ff0000" stroke-width="8.2"/>
<path d="M80 59.9L93.5 65L193 102.3L293 140L333 155.7L423 189.6L463 205.3L480 212" stroke="#ff4040" stroke-width="1.0" transform="translate(0.9 -2.3)"/>
<path d="M80 59.9L93.5 65L193 102.3L293 140L333 155.7L423 189.6L463 205.3L480 212" stroke="#000" stroke-width="3.3"/>
</g>
<path d="M87 65.5H470M93.85 65.5V269.3" stroke="#000" stroke-width="1.35" fill="none"/>
<text class="t" x="82.1" y="72.2" text-anchor="end">1.1</text>
<text class="t" x="83" y="171.3" text-anchor="end">1.0</text>
<text class="t" x="82.3" y="269.9" text-anchor="end">0.9</text>
<text class="t" x="93.4" y="290.6" text-anchor="middle">0.0</text>
<text class="t" x="350.6" y="290.6" text-anchor="middle">0.5</text>
<text x="104" y="242" style="font-size:26.4px">(b)</text>
<text x="150.6" y="242" style="font-size:23.8px">Case</text>
<text x="203.3" y="242" style="font-size:23.8px">(I),</text>
<text x="247.5" y="242" style="font-size:23.8px" class="i">B</text>
<text x="266.6" y="242" style="font-size:23.8px" textLength="15.4" lengthAdjust="spacingAndGlyphs">=</text>
<text x="287.4" y="242" style="font-size:23.8px">0.5</text>
<g class="big" transform="translate(34.7 177.2) rotate(-90)">
<text class="i" x="0" y="0" style="font-size:38px">T</text>
<text x="18.9" y="0" style="font-size:28px">(</text>
<text class="i" x="28.4" y="0.3" style="font-size:33.5px">x</text>
<text x="43.7" y="0" style="font-size:28px">)</text>
</g>
<g stroke="#333" stroke-width="1.1" fill="none">
<path d="M87 331.80H470M87 529.40H470M93.85 331.80V535.70M351.2 529.40V535.70"/>
<path d="M87 430.60H93.85M90.3 381.20H93.85M90.3 480.00H93.85M222.5 529.40V533.10"/>
</g>
<g clip-path="url(#cc)" fill="none">
<path d="M83.5 329.8 L85.0 330.3 L86.5 330.9 L88.0 331.4 L89.5 332.0 L91.0 332.6 L92.5 333.1 L94.0 333.7 L95.5 334.2 L97.0 334.7 L98.5 335.3 L100.0 335.8 L101.5 336.3 L103.0 336.8 L104.5 337.4 L106.0 337.9 L107.5 338.4 L109.0 338.9 L110.5 339.5 L112.0 340.0 L113.5 340.5 L115.0 341.1 L116.5 341.6 L118.0 342.1 L119.5 342.6 L121.0 343.2 L122.5 343.7 L124.0 344.2 L125.5 344.7 L127.0 345.3 L128.5 345.8 L130.0 346.3 L131.5 346.9 L133.0 347.4 L134.5 348.0 L136.0 348.6 L137.5 349.1 L139.0 349.7 L140.5 350.2 L142.0 350.8 L143.5 351.3 L145.0 351.9 L146.5 352.4 L148.0 353.0 L149.5 353.6 L151.0 354.1 L152.5 354.7 L154.0 355.2 L155.5 355.8 L157.0 356.3 L158.5 356.9 L160.0 357.5 L161.5 358.0 L163.0 358.6 L164.5 359.1 L166.0 359.7 L167.5 360.2 L169.0 360.8 L170.5 361.3 L172.0 361.9 L173.5 362.5 L175.0 363.0 L176.5 363.6 L178.0 364.1 L179.5 364.7 L181.0 365.2 L182.5 365.8 L184.0 366.3 L185.5 366.9 L187.0 367.5 L188.5 368.0 L190.0 368.6 L191.5 369.1 L193.0 369.7 L194.5 370.2 L196.0 370.8 L197.5 371.3 L199.0 371.9 L200.5 372.5 L202.0 373.1 L203.5 373.6 L205.0 374.2 L206.5 374.8 L208.0 375.4 L209.5 376.0 L211.0 376.6 L212.5 377.2 L214.0 377.7 L215.5 378.3 L217.0 378.9 L218.5 379.5 L220.0 380.1 L221.5 380.7 L223.0 381.3 L224.5 381.8 L226.0 382.4 L227.5 383.0 L229.0 383.6 L230.5 384.2 L232.0 384.8 L233.5 385.4 L235.0 386.0 L236.5 386.5 L238.0 387.1 L239.5 387.7 L241.0 388.3 L242.5 388.9 L244.0 389.5 L245.5 390.1 L247.0 390.6 L248.5 391.2 L250.0 391.8 L251.5 392.4 L253.0 392.9 L254.5 393.4 L256.0 394.0 L257.5 394.5 L259.0 395.0 L260.5 395.5 L262.0 396.0 L263.5 396.4 L265.0 396.9 L266.5 397.4 L268.0 397.8 L269.5 398.3 L271.0 398.8 L272.5 399.3 L274.0 399.7 L275.5 400.2 L277.0 400.7 L278.5 401.1 L280.0 401.6 L281.5 402.1 L283.0 402.5 L284.5 403.0 L286.0 403.5 L287.5 404.0 L289.0 404.4 L290.5 404.9 L292.0 405.4 L293.5 406.0 L295.0 406.7 L296.5 407.3 L298.0 407.9 L299.5 408.5 L301.0 409.1 L302.5 409.7 L304.0 410.3 L305.5 410.9 L307.0 411.6 L308.5 412.2 L310.0 412.8 L311.5 413.4 L313.0 414.0 L314.5 414.6 L316.0 415.2 L317.5 415.8 L319.0 416.5 L320.5 417.1 L322.0 417.7 L323.5 418.3 L325.0 418.9 L326.5 419.5 L328.0 420.1 L329.5 420.7 L331.0 421.3 L332.5 422.0 L334.0 422.6 L335.5 423.2 L337.0 423.8 L338.5 424.4 L340.0 425.0 L341.5 425.6 L343.0 426.2 L344.5 426.9 L346.0 427.5 L347.5 428.1 L349.0 428.7 L350.5 429.3 L352.0 430.0 L353.5 430.6 L355.0 431.2 L356.5 431.9 L358.0 432.5 L359.5 433.2 L361.0 433.8 L362.5 434.5 L364.0 435.1 L365.5 435.7 L367.0 436.4 L368.5 437.0 L370.0 437.7 L371.5 438.3 L373.0 439.0 L374.5 439.6 L376.0 440.2 L377.5 440.9 L379.0 441.5 L380.5 442.2 L382.0 442.8 L383.5 443.5 L385.0 444.1 L386.5 444.7 L388.0 445.4 L389.5 446.0 L391.0 446.6 L392.5 447.1 L394.0 447.6 L395.5 448.1 L397.0 448.6 L398.5 449.1 L400.0 449.6 L401.5 450.1 L403.0 450.6 L404.5 451.1 L406.0 451.6 L407.5 452.1 L409.0 452.7 L410.5 453.2 L412.0 453.7 L413.5 454.2 L415.0 454.7 L416.5 455.2 L418.0 455.7 L419.5 456.2 L421.0 456.7 L422.5 457.2 L424.0 457.7 L425.5 458.2 L427.0 458.7 L428.5 459.2 L430.0 459.8 L431.5 460.3 L433.0 460.8 L434.5 461.3 L436.0 461.8 L437.5 462.3 L439.0 462.8 L440.5 463.3 L442.0 463.9 L443.5 464.4 L445.0 465.0 L446.5 465.5 L448.0 466.0 L449.5 466.6 L451.0 467.1 L452.5 467.7 L454.0 468.2 L455.5 468.8 L457.0 469.3 L458.5 469.9 L460.0 470.4 L461.5 471.0 L463.0 471.5 L464.5 472.1 L466.0 472.6 L467.5 473.2 L469.0 473.7 L470.5 474.3 L472.0 474.9 L473.5 475.4 L475.0 476.0 L476.5 476.5 L478.0 477.1 L479.5 477.7 L481.0 478.2 L482.5 478.8" stroke="#ff00ff" stroke-width="9.4" />
<path d="M83.5 329.8 L85.0 330.3 L86.5 330.9 L88.0 331.4 L89.5 332.0 L91.0 332.6 L92.5 333.1 L94.0 333.7 L95.5 334.2 L97.0 334.7 L98.5 335.3 L100.0 335.8 L101.5 336.3 L103.0 336.8 L104.5 337.4 L106.0 337.9 L107.5 338.4 L109.0 338.9 L110.5 339.5 L112.0 340.0 L113.5 340.5 L115.0 341.1 L116.5 341.6 L118.0 342.1 L119.5 342.6 L121.0 343.2 L122.5 343.7 L124.0 344.2 L125.5 344.7 L127.0 345.3 L128.5 345.8 L130.0 346.3 L131.5 346.9 L133.0 347.4 L134.5 348.0 L136.0 348.6 L137.5 349.1 L139.0 349.7 L140.5 350.2 L142.0 350.8 L143.5 351.3 L145.0 351.9 L146.5 352.4 L148.0 353.0 L149.5 353.6 L151.0 354.1 L152.5 354.7 L154.0 355.2 L155.5 355.8 L157.0 356.3 L158.5 356.9 L160.0 357.5 L161.5 358.0 L163.0 358.6 L164.5 359.1 L166.0 359.7 L167.5 360.2 L169.0 360.8 L170.5 361.3 L172.0 361.9 L173.5 362.5 L175.0 363.0 L176.5 363.6 L178.0 364.1 L179.5 364.7 L181.0 365.2 L182.5 365.8 L184.0 366.3 L185.5 366.9 L187.0 367.5 L188.5 368.0 L190.0 368.6 L191.5 369.1 L193.0 369.7 L194.5 370.2 L196.0 370.8 L197.5 371.3 L199.0 371.9 L200.5 372.5 L202.0 373.1 L203.5 373.6 L205.0 374.2 L206.5 374.8 L208.0 375.4 L209.5 376.0 L211.0 376.6 L212.5 377.2 L214.0 377.7 L215.5 378.3 L217.0 378.9 L218.5 379.5 L220.0 380.1 L221.5 380.7 L223.0 381.3 L224.5 381.8 L226.0 382.4 L227.5 383.0 L229.0 383.6 L230.5 384.2 L232.0 384.8 L233.5 385.4 L235.0 386.0 L236.5 386.5 L238.0 387.1 L239.5 387.7 L241.0 388.3 L242.5 388.9 L244.0 389.5 L245.5 390.1 L247.0 390.6 L248.5 391.2 L250.0 391.8 L251.5 392.4 L253.0 392.9 L254.5 393.4 L256.0 394.0 L257.5 394.5 L259.0 395.0 L260.5 395.5 L262.0 396.0 L263.5 396.4 L265.0 396.9 L266.5 397.4 L268.0 397.8 L269.5 398.3 L271.0 398.8 L272.5 399.3 L274.0 399.7 L275.5 400.2 L277.0 400.7 L278.5 401.1 L280.0 401.6 L281.5 402.1 L283.0 402.5 L284.5 403.0 L286.0 403.5 L287.5 404.0 L289.0 404.4 L290.5 404.9 L292.0 405.4 L293.5 406.0 L295.0 406.7 L296.5 407.3 L298.0 407.9 L299.5 408.5 L301.0 409.1 L302.5 409.7 L304.0 410.3 L305.5 410.9 L307.0 411.6 L308.5 412.2 L310.0 412.8 L311.5 413.4 L313.0 414.0 L314.5 414.6 L316.0 415.2 L317.5 415.8 L319.0 416.5 L320.5 417.1 L322.0 417.7 L323.5 418.3 L325.0 418.9 L326.5 419.5 L328.0 420.1 L329.5 420.7 L331.0 421.3 L332.5 422.0 L334.0 422.6 L335.5 423.2 L337.0 423.8 L338.5 424.4 L340.0 425.0 L341.5 425.6 L343.0 426.2 L344.5 426.9 L346.0 427.5 L347.5 428.1 L349.0 428.7 L350.5 429.3 L352.0 430.0 L353.5 430.6 L355.0 431.2 L356.5 431.9 L358.0 432.5 L359.5 433.2 L361.0 433.8 L362.5 434.5 L364.0 435.1 L365.5 435.7 L367.0 436.4 L368.5 437.0 L370.0 437.7 L371.5 438.3 L373.0 439.0 L374.5 439.6 L376.0 440.2 L377.5 440.9 L379.0 441.5 L380.5 442.2 L382.0 442.8 L383.5 443.5 L385.0 444.1 L386.5 444.7 L388.0 445.4 L389.5 446.0 L391.0 446.6 L392.5 447.1 L394.0 447.6 L395.5 448.1 L397.0 448.6 L398.5 449.1 L400.0 449.6 L401.5 450.1 L403.0 450.6 L404.5 451.1 L406.0 451.6 L407.5 452.1 L409.0 452.7 L410.5 453.2 L412.0 453.7 L413.5 454.2 L415.0 454.7 L416.5 455.2 L418.0 455.7 L419.5 456.2 L421.0 456.7 L422.5 457.2 L424.0 457.7 L425.5 458.2 L427.0 458.7 L428.5 459.2 L430.0 459.8 L431.5 460.3 L433.0 460.8 L434.5 461.3 L436.0 461.8 L437.5 462.3 L439.0 462.8 L440.5 463.3 L442.0 463.9 L443.5 464.4 L445.0 465.0 L446.5 465.5 L448.0 466.0 L449.5 466.6 L451.0 467.1 L452.5 467.7 L454.0 468.2 L455.5 468.8 L457.0 469.3 L458.5 469.9 L460.0 470.4 L461.5 471.0 L463.0 471.5 L464.5 472.1 L466.0 472.6 L467.5 473.2 L469.0 473.7 L470.5 474.3 L472.0 474.9 L473.5 475.4 L475.0 476.0 L476.5 476.5 L478.0 477.1 L479.5 477.7 L481.0 478.2 L482.5 478.8" stroke="#a9a0ff" stroke-width="8"/>
<path d="M83.5 329.8 L85.0 330.3 L86.5 330.9 L88.0 331.4 L89.5 332.0 L91.0 332.6 L92.5 333.1 L94.0 333.7 L95.5 334.2 L97.0 334.7 L98.5 335.3 L100.0 335.8 L101.5 336.3 L103.0 336.8 L104.5 337.4 L106.0 337.9 L107.5 338.4 L109.0 338.9 L110.5 339.5 L112.0 340.0 L113.5 340.5 L115.0 341.1 L116.5 341.6 L118.0 342.1 L119.5 342.6 L121.0 343.2 L122.5 343.7 L124.0 344.2 L125.5 344.7 L127.0 345.3 L128.5 345.8 L130.0 346.3 L131.5 346.9 L133.0 347.4 L134.5 348.0 L136.0 348.6 L137.5 349.1 L139.0 349.7 L140.5 350.2 L142.0 350.8 L143.5 351.3 L145.0 351.9 L146.5 352.4 L148.0 353.0 L149.5 353.6 L151.0 354.1 L152.5 354.7 L154.0 355.2 L155.5 355.8 L157.0 356.3 L158.5 356.9 L160.0 357.5 L161.5 358.0 L163.0 358.6 L164.5 359.1 L166.0 359.7 L167.5 360.2 L169.0 360.8 L170.5 361.3 L172.0 361.9 L173.5 362.5 L175.0 363.0 L176.5 363.6 L178.0 364.1 L179.5 364.7 L181.0 365.2 L182.5 365.8 L184.0 366.3 L185.5 366.9 L187.0 367.5 L188.5 368.0 L190.0 368.6 L191.5 369.1 L193.0 369.7 L194.5 370.2 L196.0 370.8 L197.5 371.3 L199.0 371.9 L200.5 372.5 L202.0 373.1 L203.5 373.6 L205.0 374.2 L206.5 374.8 L208.0 375.4 L209.5 376.0 L211.0 376.6 L212.5 377.2 L214.0 377.7 L215.5 378.3 L217.0 378.9 L218.5 379.5 L220.0 380.1 L221.5 380.7 L223.0 381.3 L224.5 381.8 L226.0 382.4 L227.5 383.0 L229.0 383.6 L230.5 384.2 L232.0 384.8 L233.5 385.4 L235.0 386.0 L236.5 386.5 L238.0 387.1 L239.5 387.7 L241.0 388.3 L242.5 388.9 L244.0 389.5 L245.5 390.1 L247.0 390.6 L248.5 391.2 L250.0 391.8 L251.5 392.4 L253.0 392.9 L254.5 393.4 L256.0 394.0 L257.5 394.5 L259.0 395.0 L260.5 395.5 L262.0 396.0 L263.5 396.4 L265.0 396.9 L266.5 397.4 L268.0 397.8 L269.5 398.3 L271.0 398.8 L272.5 399.3 L274.0 399.7 L275.5 400.2 L277.0 400.7 L278.5 401.1 L280.0 401.6 L281.5 402.1 L283.0 402.5 L284.5 403.0 L286.0 403.5 L287.5 404.0 L289.0 404.4 L290.5 404.9 L292.0 405.4 L293.5 406.0 L295.0 406.7 L296.5 407.3 L298.0 407.9 L299.5 408.5 L301.0 409.1 L302.5 409.7 L304.0 410.3 L305.5 410.9 L307.0 411.6 L308.5 412.2 L310.0 412.8 L311.5 413.4 L313.0 414.0 L314.5 414.6 L316.0 415.2 L317.5 415.8 L319.0 416.5 L320.5 417.1 L322.0 417.7 L323.5 418.3 L325.0 418.9 L326.5 419.5 L328.0 420.1 L329.5 420.7 L331.0 421.3 L332.5 422.0 L334.0 422.6 L335.5 423.2 L337.0 423.8 L338.5 424.4 L340.0 425.0 L341.5 425.6 L343.0 426.2 L344.5 426.9 L346.0 427.5 L347.5 428.1 L349.0 428.7 L350.5 429.3 L352.0 430.0 L353.5 430.6 L355.0 431.2 L356.5 431.9 L358.0 432.5 L359.5 433.2 L361.0 433.8 L362.5 434.5 L364.0 435.1 L365.5 435.7 L367.0 436.4 L368.5 437.0 L370.0 437.7 L371.5 438.3 L373.0 439.0 L374.5 439.6 L376.0 440.2 L377.5 440.9 L379.0 441.5 L380.5 442.2 L382.0 442.8 L383.5 443.5 L385.0 444.1 L386.5 444.7 L388.0 445.4 L389.5 446.0 L391.0 446.6 L392.5 447.1 L394.0 447.6 L395.5 448.1 L397.0 448.6 L398.5 449.1 L400.0 449.6 L401.5 450.1 L403.0 450.6 L404.5 451.1 L406.0 451.6 L407.5 452.1 L409.0 452.7 L410.5 453.2 L412.0 453.7 L413.5 454.2 L415.0 454.7 L416.5 455.2 L418.0 455.7 L419.5 456.2 L421.0 456.7 L422.5 457.2 L424.0 457.7 L425.5 458.2 L427.0 458.7 L428.5 459.2 L430.0 459.8 L431.5 460.3 L433.0 460.8 L434.5 461.3 L436.0 461.8 L437.5 462.3 L439.0 462.8 L440.5 463.3 L442.0 463.9 L443.5 464.4 L445.0 465.0 L446.5 465.5 L448.0 466.0 L449.5 466.6 L451.0 467.1 L452.5 467.7 L454.0 468.2 L455.5 468.8 L457.0 469.3 L458.5 469.9 L460.0 470.4 L461.5 471.0 L463.0 471.5 L464.5 472.1 L466.0 472.6 L467.5 473.2 L469.0 473.7 L470.5 474.3 L472.0 474.9 L473.5 475.4 L475.0 476.0 L476.5 476.5 L478.0 477.1 L479.5 477.7 L481.0 478.2 L482.5 478.8" stroke="#2a1cff" stroke-width="8" stroke-dasharray="1.1 0.7"/>
<path d="M83.5 321.6 L85.0 322.1 L86.5 322.3 L88.0 323.4 L89.5 324.3 L91.0 325.0 L92.5 324.8 L94.0 325.6 L95.5 325.5 L97.0 325.8 L98.5 326.6 L100.0 327.4 L101.5 328.1 L103.0 328.4 L104.5 329.2 L106.0 329.5 L107.5 330.0 L109.0 330.8 L110.5 331.2 L112.0 331.5 L113.5 331.8 L115.0 332.6 L116.5 333.3 L118.0 333.1 L119.5 333.7 L121.0 334.6 L122.5 334.7 L124.0 335.6 L125.5 336.8 L127.0 337.4 L128.5 338.1 L130.0 338.4 L131.5 338.5 L133.0 339.6 L134.5 339.6 L136.0 340.7 L137.5 340.5 L139.0 341.3 L140.5 341.5 L142.0 342.6 L143.5 343.3 L145.0 344.4 L146.5 345.0 L148.0 344.9 L149.5 345.8 L151.0 345.5 L152.5 346.5 L154.0 347.0 L155.5 347.1 L157.0 348.0 L158.5 348.7 L160.0 349.3 L161.5 349.6 L163.0 350.6 L164.5 350.8 L166.0 352.0 L167.5 351.9 L169.0 352.5 L170.5 353.6 L172.0 354.6 L173.5 354.7 L175.0 355.6 L176.5 356.1 L178.0 356.6 L179.5 357.0 L181.0 357.7 L182.5 358.4 L184.0 359.6 L185.5 359.7 L187.0 360.1 L188.5 360.4 L190.0 361.5 L191.5 361.4 L193.0 362.1 L194.5 362.4 L196.0 363.0 L197.5 364.4 L199.0 364.5 L200.5 364.9 L202.0 364.3 L203.5 365.4 L205.0 366.0 L206.5 366.9 L208.0 366.8 L209.5 367.4 L211.0 368.5 L212.5 369.5 L214.0 370.2 L215.5 370.8 L217.0 371.2 L218.5 372.0 L220.0 372.4 L221.5 373.3 L223.0 374.8 L224.5 375.4 L226.0 375.7 L227.5 376.1 L229.0 375.9 L230.5 376.6 L232.0 376.7 L233.5 377.8 L235.0 378.8 L236.5 379.2 L238.0 379.9 L239.5 380.0 L241.0 381.0 L242.5 380.8 L244.0 381.5 L245.5 382.4 L247.0 383.7 L248.5 384.7 L250.0 385.8 L251.5 386.0 L253.0 386.6 L254.5 387.7 L256.0 387.3 L257.5 387.4 L259.0 388.3 L260.5 389.0 L262.0 389.7 L263.5 390.3 L265.0 391.6 L266.5 391.8 L268.0 391.7 L269.5 391.7 L271.0 392.1 L272.5 393.0 L274.0 393.6 L275.5 395.2 L277.0 396.0 L278.5 396.6 L280.0 397.0 L281.5 397.6 L283.0 398.4 L284.5 399.0 L286.0 399.7 L287.5 400.1 L289.0 400.9 L290.5 401.4 L292.0 401.8 L293.5 402.4 L295.0 402.8 L296.5 403.6 L298.0 404.4 L299.5 404.8 L301.0 405.6 L302.5 406.4 L304.0 407.1 L305.5 408.0 L307.0 408.6 L308.5 409.3 L310.0 409.8 L311.5 410.7 L313.0 411.3 L314.5 411.7 L316.0 412.5 L317.5 413.1 L319.0 413.5 L320.5 414.1 L322.0 414.6 L323.5 415.0 L325.0 415.7 L326.5 416.1 L328.0 417.1 L329.5 417.7 L331.0 418.3 L332.5 419.0 L334.0 419.5 L335.5 419.7 L337.0 420.3 L338.5 421.0 L340.0 421.3 L341.5 421.9 L343.0 422.4 L344.5 423.3 L346.0 423.6 L347.5 424.5 L349.0 425.2 L350.5 425.6 L352.0 425.7 L353.5 426.2 L355.0 426.7 L356.5 427.3 L358.0 427.9 L359.5 428.4 L361.0 428.9 L362.5 429.2 L364.0 429.8 L365.5 430.3 L367.0 430.9 L368.5 431.6 L370.0 432.3 L371.5 432.9 L373.0 432.7 L374.5 433.0 L376.0 433.2 L377.5 433.6 L379.0 434.2 L380.5 434.6 L382.0 435.6 L383.5 436.8 L385.0 437.3 L386.5 438.5 L388.0 439.3 L389.5 439.6 L391.0 439.9 L392.5 440.6 L394.0 440.9 L395.5 441.9 L397.0 442.3 L398.5 442.6 L400.0 443.4 L401.5 443.3 L403.0 444.0 L404.5 444.8 L406.0 445.6 L407.5 446.0 L409.0 446.3 L410.5 446.4 L412.0 446.9 L413.5 447.3 L415.0 447.6 L416.5 448.5 L418.0 449.0 L419.5 450.2 L421.0 451.1 L422.5 451.4 L424.0 452.1 L425.5 451.8 L427.0 452.6 L428.5 452.4 L430.0 452.8 L431.5 453.5 L433.0 454.4 L434.5 455.5 L436.0 455.5 L437.5 455.7 L439.0 456.3 L440.5 457.1 L442.0 457.2 L443.5 457.8 L445.0 458.5 L446.5 459.4 L448.0 459.9 L449.5 460.4 L451.0 460.6 L452.5 460.7 L454.0 461.5 L455.5 462.1 L457.0 463.0 L458.5 463.6 L460.0 464.1 L461.5 465.0 L463.0 465.3 L464.5 465.7 L466.0 465.9 L467.5 466.4 L469.0 467.3 L470.5 468.9 L472.0 469.7 L473.5 470.5 L475.0 470.6 L476.5 471.3 L478.0 471.8 L479.5 472.5 L481.0 473.1 L482.5 473.7 L482.5 482.0 L481.0 481.7 L479.5 481.3 L478.0 480.6 L476.5 479.8 L475.0 478.6 L473.5 477.8 L472.0 477.8 L470.5 477.1 L469.0 476.5 L467.5 476.0 L466.0 475.3 L464.5 474.7 L463.0 474.2 L461.5 473.9 L460.0 473.2 L458.5 472.6 L457.0 472.1 L455.5 471.3 L454.0 470.7 L452.5 470.4 L451.0 469.6 L449.5 468.9 L448.0 468.9 L446.5 468.4 L445.0 467.7 L443.5 467.2 L442.0 466.6 L440.5 466.0 L439.0 465.7 L437.5 465.1 L436.0 464.8 L434.5 464.4 L433.0 463.5 L431.5 462.7 L430.0 461.9 L428.5 461.5 L427.0 461.1 L425.5 460.8 L424.0 460.3 L422.5 459.5 L421.0 459.3 L419.5 459.0 L418.0 458.3 L416.5 458.1 L415.0 457.6 L413.5 456.9 L412.0 456.8 L410.5 456.7 L409.0 456.5 L407.5 456.0 L406.0 455.7 L404.5 455.2 L403.0 454.9 L401.5 454.3 L400.0 454.0 L398.5 453.7 L397.0 453.3 L395.5 452.4 L394.0 452.2 L392.5 451.2 L391.0 450.6 L389.5 449.9 L388.0 449.2 L386.5 448.9 L385.0 448.1 L383.5 447.3 L382.0 446.5 L380.5 445.9 L379.0 445.0 L377.5 444.7 L376.0 443.6 L374.5 443.6 L373.0 442.8 L371.5 442.1 L370.0 441.7 L368.5 441.2 L367.0 440.3 L365.5 440.0 L364.0 439.3 L362.5 438.7 L361.0 438.1 L359.5 437.7 L358.0 437.0 L356.5 436.3 L355.0 435.6 L353.5 435.1 L352.0 434.4 L350.5 434.0 L349.0 433.4 L347.5 432.7 L346.0 431.9 L344.5 431.6 L343.0 430.8 L341.5 430.5 L340.0 430.0 L338.5 429.7 L337.0 428.7 L335.5 428.4 L334.0 427.6 L332.5 426.9 L331.0 426.2 L329.5 425.5 L328.0 425.5 L326.5 424.7 L325.0 424.3 L323.5 423.8 L322.0 423.4 L320.5 422.9 L319.0 422.3 L317.5 421.8 L316.0 421.2 L314.5 420.7 L313.0 420.1 L311.5 419.0 L310.0 418.8 L308.5 418.4 L307.0 417.5 L305.5 417.5 L304.0 416.8 L302.5 416.1 L301.0 415.4 L299.5 414.9 L298.0 414.4 L296.5 413.8 L295.0 413.5 L293.5 412.8 L292.0 412.0 L290.5 411.4 L289.0 411.0 L287.5 410.6 L286.0 410.2 L284.5 409.9 L283.0 409.3 L281.5 408.6 L280.0 408.2 L278.5 407.3 L277.0 406.9 L275.5 406.0 L274.0 405.4 L272.5 404.7 L271.0 404.1 L269.5 403.5 L268.0 402.6 L266.5 402.3 L265.0 401.6 L263.5 400.6 L262.0 399.8 L260.5 398.9 L259.0 398.1 L257.5 397.7 L256.0 396.8 L254.5 396.2 L253.0 395.6 L251.5 395.0 L250.0 394.1 L248.5 393.6 L247.0 392.7 L245.5 392.4 L244.0 391.8 L242.5 391.4 L241.0 390.5 L239.5 390.0 L238.0 389.1 L236.5 388.0 L235.0 387.6 L233.5 387.1 L232.0 386.2 L230.5 385.9 L229.0 385.5 L227.5 385.3 L226.0 384.5 L224.5 383.7 L223.0 383.2 L221.5 382.9 L220.0 382.4 L218.5 381.4 L217.0 380.7 L215.5 380.0 L214.0 379.0 L212.5 378.6 L211.0 378.3 L209.5 378.3 L208.0 377.6 L206.5 377.2 L205.0 376.3 L203.5 375.4 L202.0 375.0 L200.5 374.6 L199.0 374.0 L197.5 373.5 L196.0 372.8 L194.5 372.4 L193.0 371.7 L191.5 371.0 L190.0 370.4 L188.5 370.4 L187.0 369.9 L185.5 369.1 L184.0 368.7 L182.5 368.1 L181.0 367.5 L179.5 367.0 L178.0 366.4 L176.5 365.7 L175.0 365.1 L173.5 364.4 L172.0 363.6 L170.5 363.3 L169.0 363.0 L167.5 362.5 L166.0 362.0 L164.5 361.6 L163.0 360.9 L161.5 360.4 L160.0 360.1 L158.5 359.4 L157.0 358.7 L155.5 358.3 L154.0 357.4 L152.5 356.5 L151.0 356.4 L149.5 356.1 L148.0 355.5 L146.5 354.7 L145.0 354.0 L143.5 353.3 L142.0 352.6 L140.5 351.9 L139.0 350.9 L137.5 350.4 L136.0 350.3 L134.5 349.5 L133.0 348.7 L131.5 348.5 L130.0 348.0 L128.5 347.7 L127.0 347.3 L125.5 347.2 L124.0 346.6 L122.5 345.9 L121.0 345.2 L119.5 344.6 L118.0 344.3 L116.5 343.9 L115.0 343.0 L113.5 342.9 L112.0 342.3 L110.5 341.5 L109.0 341.2 L107.5 340.7 L106.0 340.2 L104.5 339.9 L103.0 339.2 L101.5 338.3 L100.0 337.6 L98.5 337.2 L97.0 336.6 L95.5 336.2 L94.0 336.1 L92.5 335.5 L91.0 334.8 L89.5 334.2 L88.0 333.6 L86.5 333.0 L85.0 332.4 L83.5 332.0Z" fill="#ff0000" stroke="none"/>
<path d="M83.5 327.6 L85.0 328.1 L86.5 328.7 L88.0 329.2 L89.5 329.8 L91.0 330.4 L92.5 330.9 L94.0 331.5 L95.5 332.0 L97.0 332.5 L98.5 333.1 L100.0 333.6 L101.5 334.1 L103.0 334.6 L104.5 335.2 L106.0 335.7 L107.5 336.2 L109.0 336.7 L110.5 337.3 L112.0 337.8 L113.5 338.3 L115.0 338.9 L116.5 339.4 L118.0 339.9 L119.5 340.4 L121.0 341.0 L122.5 341.5 L124.0 342.0 L125.5 342.5 L127.0 343.1 L128.5 343.6 L130.0 344.1 L131.5 344.7 L133.0 345.2 L134.5 345.8 L136.0 346.4 L137.5 346.9 L139.0 347.5 L140.5 348.0 L142.0 348.6 L143.5 349.1 L145.0 349.7 L146.5 350.2 L148.0 350.8 L149.5 351.4 L151.0 351.9 L152.5 352.5 L154.0 353.0 L155.5 353.6 L157.0 354.1 L158.5 354.7 L160.0 355.3 L161.5 355.8 L163.0 356.4 L164.5 356.9 L166.0 357.5 L167.5 358.0 L169.0 358.6 L170.5 359.1 L172.0 359.7 L173.5 360.3 L175.0 360.8 L176.5 361.4 L178.0 361.9 L179.5 362.5 L181.0 363.0 L182.5 363.6 L184.0 364.1 L185.5 364.7 L187.0 365.3 L188.5 365.8 L190.0 366.4 L191.5 366.9 L193.0 367.5 L194.5 368.0 L196.0 368.6 L197.5 369.1 L199.0 369.7 L200.5 370.3 L202.0 370.9 L203.5 371.4 L205.0 372.0 L206.5 372.6 L208.0 373.2 L209.5 373.8 L211.0 374.4 L212.5 375.0 L214.0 375.5 L215.5 376.1 L217.0 376.7 L218.5 377.3 L220.0 377.9 L221.5 378.5 L223.0 379.1 L224.5 379.6 L226.0 380.2 L227.5 380.8 L229.0 381.4 L230.5 382.0 L232.0 382.6 L233.5 383.2 L235.0 383.8 L236.5 384.3 L238.0 384.9 L239.5 385.5 L241.0 386.1 L242.5 386.7 L244.0 387.3 L245.5 387.9 L247.0 388.4 L248.5 389.0 L250.0 389.6 L251.5 390.2 L253.0 390.8 L254.5 391.4 L256.0 392.0 L257.5 392.5 L259.0 393.1 L260.5 393.6 L262.0 394.1 L263.5 394.6 L265.0 395.1 L266.5 395.7 L268.0 396.2 L269.5 396.7 L271.0 397.2 L272.5 397.7 L274.0 398.2 L275.5 398.8 L277.0 399.3 L278.5 399.8 L280.0 400.3 L281.5 400.8 L283.0 401.3 L284.5 401.9 L286.0 402.4 L287.5 402.9 L289.0 403.4 L290.5 403.9 L292.0 404.4 L293.5 405.0 L295.0 405.7 L296.5 406.3 L298.0 406.9 L299.5 407.5 L301.0 408.1 L302.5 408.7 L304.0 409.3 L305.5 409.9 L307.0 410.6 L308.5 411.2 L310.0 411.8 L311.5 412.4 L313.0 413.0 L314.5 413.6 L316.0 414.2 L317.5 414.8 L319.0 415.5 L320.5 416.1 L322.0 416.7 L323.5 417.3 L325.0 417.9 L326.5 418.5 L328.0 419.1 L329.5 419.7 L331.0 420.3 L332.5 421.0 L334.0 421.6 L335.5 422.2 L337.0 422.8 L338.5 423.4 L340.0 424.0 L341.5 424.6 L343.0 425.2 L344.5 425.9 L346.0 426.5 L347.5 427.1 L349.0 427.7 L350.5 428.3 L352.0 428.9 L353.5 429.4 L355.0 430.0 L356.5 430.6 L358.0 431.1 L359.5 431.7 L361.0 432.3 L362.5 432.9 L364.0 433.4 L365.5 434.0 L367.0 434.6 L368.5 435.1 L370.0 435.7 L371.5 436.3 L373.0 436.9 L374.5 437.4 L376.0 438.0 L377.5 438.6 L379.0 439.1 L380.5 439.7 L382.0 440.3 L383.5 440.9 L385.0 441.4 L386.5 442.0 L388.0 442.6 L389.5 443.1 L391.0 443.7 L392.5 444.2 L394.0 444.8 L395.5 445.3 L397.0 445.9 L398.5 446.4 L400.0 447.0 L401.5 447.5 L403.0 448.1 L404.5 448.6 L406.0 449.2 L407.5 449.7 L409.0 450.3 L410.5 450.8 L412.0 451.3 L413.5 451.9 L415.0 452.4 L416.5 453.0 L418.0 453.5 L419.5 454.1 L421.0 454.6 L422.5 455.2 L424.0 455.7 L425.5 456.3 L427.0 456.8 L428.5 457.3 L430.0 457.9 L431.5 458.4 L433.0 459.0 L434.5 459.5 L436.0 460.1 L437.5 460.6 L439.0 461.2 L440.5 461.7 L442.0 462.3 L443.5 462.8 L445.0 463.4 L446.5 463.9 L448.0 464.4 L449.5 465.0 L451.0 465.5 L452.5 466.1 L454.0 466.6 L455.5 467.2 L457.0 467.7 L458.5 468.3 L460.0 468.8 L461.5 469.4 L463.0 469.9 L464.5 470.5 L466.0 471.0 L467.5 471.6 L469.0 472.1 L470.5 472.7 L472.0 473.3 L473.5 473.8 L475.0 474.4 L476.5 474.9 L478.0 475.5 L479.5 476.1 L481.0 476.6 L482.5 477.2" stroke="#000" stroke-width="3.7" stroke-linejoin="round"/>
</g>
<path d="M87 331.8H470M93.85 331.8V535.7" stroke="#3a3a3a" stroke-width="1.15" fill="none"/>
<text class="t" x="82.1" y="337.4" text-anchor="end">1.1</text>
<text class="t" x="83" y="436.5" text-anchor="end">1.0</text>
<text class="t" x="82.3" y="536.2" text-anchor="end">0.9</text>
<text class="t" x="93.4" y="557" text-anchor="middle">0.0</text>
<text class="t" x="350.6" y="557" text-anchor="middle">0.5</text>
<text x="110.1" y="513.7" style="font-size:26.4px">(c)</text>
<text x="155" y="513.7" style="font-size:23.8px">Case</text>
<text x="207" y="513.7" style="font-size:23.8px">(II),</text>
<text x="258.6" y="513.7" style="font-size:23.8px" class="i">B</text>
<text x="278.7" y="513.7" style="font-size:23.8px" textLength="15.4" lengthAdjust="spacingAndGlyphs">=</text>
<text x="298.9" y="513.7" style="font-size:23.8px">0.5</text>
<g class="big" transform="translate(34.7 451.3) rotate(-90)">
<text class="i" x="0" y="0" style="font-size:38px">T</text>
<text x="18.9" y="0" style="font-size:28px">(</text>
<text class="i" x="28.4" y="0.3" style="font-size:33.5px">x</text>
<text x="43.7" y="0" style="font-size:28px">)</text>
</g>
<g transform="translate(325.2 120.6) rotate(-90)"><text x="0" y="0" style="font-size:23px">δ</text><text class="i" x="13.6" y="0" style="font-size:24.5px">T</text></g>
<g transform="translate(334.2 395.3) rotate(-90)"><text x="0" y="0" style="font-size:23px">δ</text><text class="i" x="13.6" y="0" style="font-size:24.5px">T</text></g>
<text class="i big" x="329.6" y="590.6" style="font-size:35.5px">x</text>
<text class="big" x="347.6" y="590.4" style="font-size:37px">/</text>
<text class="i big" x="357.3" y="590.2" style="font-size:36.5px">L</text>
</svg></body></html>
